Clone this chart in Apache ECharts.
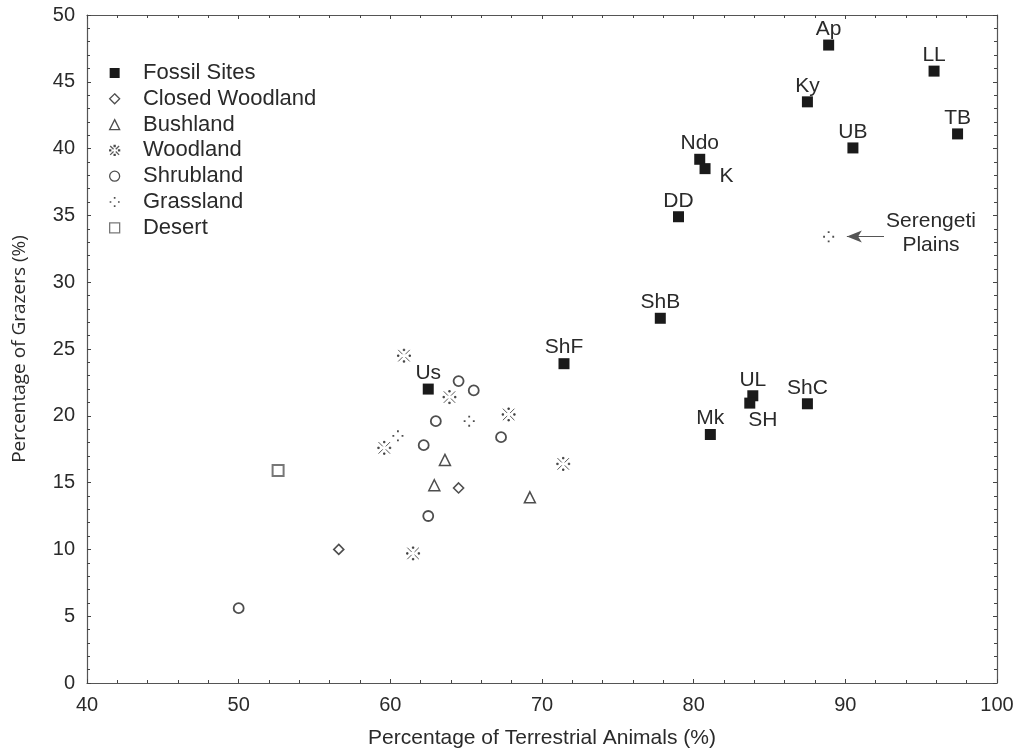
<!DOCTYPE html>
<html>
<head>
<meta charset="utf-8">
<script src="https://cdn.jsdelivr.net/npm/echarts@6/dist/echarts.min.js"></script>
<style>
  html, body { margin: 0; background: #fff; }
  #main { width: 1017px; height: 755px; }
</style>
</head>
<body>
<div id="main"></div>
<script>
// fossil sites
const fossilNames = ['Ap', 'LL', 'Ky', 'TB', 'UB', 'Ndo', 'K', 'DD', 'ShB', 'ShF', 'Us', 'UL', 'SH', 'ShC', 'Mk'];
const fossilX = [88.9, 95.85, 87.5, 97.4, 90.5, 80.4, 80.75, 79.0, 77.8, 71.45, 62.5, 83.9, 83.7, 87.5, 81.1];
const fossilY = [47.75, 45.8, 43.5, 41.1, 40.05, 39.2, 38.5, 34.9, 27.3, 23.9, 22.0, 21.5, 20.95, 20.9, 18.6];

// modern habitats
const closedWoodlandX = [56.6, 64.5];
const closedWoodlandY = [10.0, 14.6];

const bushlandX = [63.6, 62.9, 69.2];
const bushlandY = [16.7, 14.8, 13.9];

const woodlandX = [60.9, 63.9, 67.8, 59.6, 71.4, 61.5];
const woodlandY = [24.5, 21.4, 20.1, 17.6, 16.4, 9.7];

const shrublandX = [64.5, 65.5, 63.0, 62.2, 67.3, 62.5, 50.0];
const shrublandY = [22.6, 21.9, 19.6, 17.8, 18.4, 12.5, 5.6];

const grasslandX = [60.5, 65.2, 88.9];
const grasslandY = [18.5, 19.6, 33.4];

const desertX = [52.6];
const desertY = [15.9];

// annotation
const serengetiText = [95.65, 33.7];
const arrowFrom = [92.55, 33.43];
const arrowTo = [90.1, 33.43];

const font = 'Liberation Sans, Arial, Helvetica, sans-serif';
const ink = '#2a2a2a';

function pts(xs, ys) {
    return xs.map((x, i) => [x, ys[i]]);
}

// label nudges for the crowded points (pixels)
const labelNudge = {
    K: { pos: 'right', dx: 9, dy: 8 },
    SH: { pos: 'bottom', dx: 13, dy: 1 }
};

const fossilData = fossilNames.map((n, i) => {
    const d = { name: n, value: [fossilX[i], fossilY[i]] };
    if (labelNudge[n]) d.label = { position: labelNudge[n].pos };
    return d;
});

const woodlandPath = 'path://M2 2L8 8M12 12L18 18M18 2L12 8M8 12L2 18M9 1h2v2h-2ZM9 17h2v2h-2ZM1 9h2v2h-2ZM17 9h2v2h-2Z';
const grasslandPath = 'path://M5 0h2v2h-2ZM0 5h2v2h-2ZM10 5h2v2h-2ZM5 10h2v2h-2Z';

const hollow = (w) => ({ color: 'rgba(255,255,255,0)', borderColor: '#222', borderWidth: w });

const chart = echarts.init(document.getElementById('main'), null, { renderer: 'canvas' });

const axisLine = { show: true, onZero: false, lineStyle: { color: '#555', width: 1.2 } };
const axisTick = { show: true, inside: true, length: 4, lineStyle: { color: '#444', width: 1 } };
const minorTick = { show: true, splitNumber: 5, length: 3, lineStyle: { color: '#444', width: 1 } };

var option = {
    backgroundColor: '#fff',
    animation: false,
    textStyle: { fontFamily: font },
    grid: { left: 87, right: 20, top: 15, bottom: 72 },
    legend: {
        orient: 'vertical',
        left: 104,
        top: 57,
        itemWidth: 10,
        itemHeight: 10,
        itemGap: 3.8,
        formatter: '   {name}',
        itemStyle: { borderWidth: 1.3 },
        textStyle: { fontSize: 22, color: ink, fontFamily: font },
        data: ['Fossil Sites', 'Closed Woodland', 'Bushland', 'Woodland', 'Shrubland', 'Grassland', 'Desert']
    },
    xAxis: [{
        type: 'value',
        min: 40, max: 100, interval: 10,
        name: 'Percentage of Terrestrial Animals (%)',
        nameLocation: 'middle',
        nameGap: 45,
        nameTextStyle: { fontSize: 21, color: ink, fontFamily: font },
        axisLine: axisLine,
        axisTick: axisTick,
        minorTick: minorTick,
        splitLine: { show: false },
        axisLabel: { fontSize: 20, color: ink, margin: 12, fontFamily: font }
    }, {
        type: 'value',
        position: 'top',
        min: 40, max: 100, interval: 10,
        axisLine: axisLine,
        axisTick: axisTick,
        minorTick: minorTick,
        splitLine: { show: false },
        axisLabel: { show: false }
    }],
    yAxis: [{
        type: 'value',
        min: 0, max: 50, interval: 5,
        name: 'Percentage of Grazers (%)',
        nameLocation: 'middle',
        nameGap: 58,
        nameTextStyle: { fontSize: 19, color: ink, fontFamily: 'Open Sans, Noto Sans, sans-serif' },
        axisLine: axisLine,
        axisTick: axisTick,
        minorTick: minorTick,
        splitLine: { show: false },
        axisLabel: { fontSize: 20, color: ink, margin: 12, fontFamily: font }
    }, {
        type: 'value',
        position: 'right',
        min: 0, max: 50, interval: 5,
        axisLine: axisLine,
        axisTick: axisTick,
        minorTick: minorTick,
        splitLine: { show: false },
        axisLabel: { show: false }
    }],
    series: [{
        name: 'Fossil Sites',
        type: 'scatter',
        symbol: 'rect',
        symbolSize: 11,
        itemStyle: { color: '#1a1a1a', opacity: 1 },
        label: {
            show: true,
            position: 'top',
            distance: 0,
            formatter: '{b}',
            fontSize: 21,
            color: ink,
            fontFamily: font
        },
        labelLayout: function (p) {
            const n = labelNudge[fossilNames[p.dataIndex]];
            return n ? { dx: n.dx, dy: n.dy, hideOverlap: false } : { hideOverlap: false };
        },
        data: fossilData,
        z: 5
    }, {
        name: 'Closed Woodland',
        type: 'scatter',
        symbol: 'diamond',
        symbolSize: 10,
        itemStyle: hollow(1.6),
        data: pts(closedWoodlandX, closedWoodlandY)
    }, {
        name: 'Bushland',
        type: 'scatter',
        symbol: 'triangle',
        symbolSize: 11,
        itemStyle: hollow(1.5),
        data: pts(bushlandX, bushlandY)
    }, {
        name: 'Woodland',
        type: 'scatter',
        symbol: woodlandPath,
        symbolSize: 13,
        itemStyle: { color: '#333', borderColor: '#333', borderWidth: 1 },
        data: pts(woodlandX, woodlandY)
    }, {
        name: 'Shrubland',
        type: 'scatter',
        symbol: 'circle',
        symbolSize: 10,
        itemStyle: hollow(1.8),
        data: pts(shrublandX, shrublandY)
    }, {
        name: 'Grassland',
        type: 'scatter',
        symbol: grasslandPath,
        symbolSize: 11,
        itemStyle: { color: '#222' },
        data: pts(grasslandX, grasslandY),
        markLine: {
            silent: true,
            symbol: ['none', 'arrow'],
            symbolSize: [9, 15],
            lineStyle: { color: '#555', width: 1, type: 'solid' },
            label: { show: false },
            data: [[{ coord: arrowFrom }, { coord: arrowTo }]]
        },
        markPoint: {
            silent: true,
            symbol: 'circle',
            symbolSize: 0,
            label: {
                show: true,
                position: 'inside',
                formatter: 'Serengeti\nPlains',
                fontSize: 21,
                lineHeight: 24,
                align: 'center',
                color: ink,
                fontFamily: font
            },
            data: [{ coord: serengetiText }]
        }
    }, {
        name: 'Desert',
        type: 'scatter',
        symbol: 'rect',
        symbolSize: 11,
        itemStyle: { color: 'rgba(255,255,255,0)', borderColor: '#555', borderWidth: 2 },
        data: pts(desertX, desertY)
    }]
};

chart.setOption(option);
</script>
</body>
</html>
